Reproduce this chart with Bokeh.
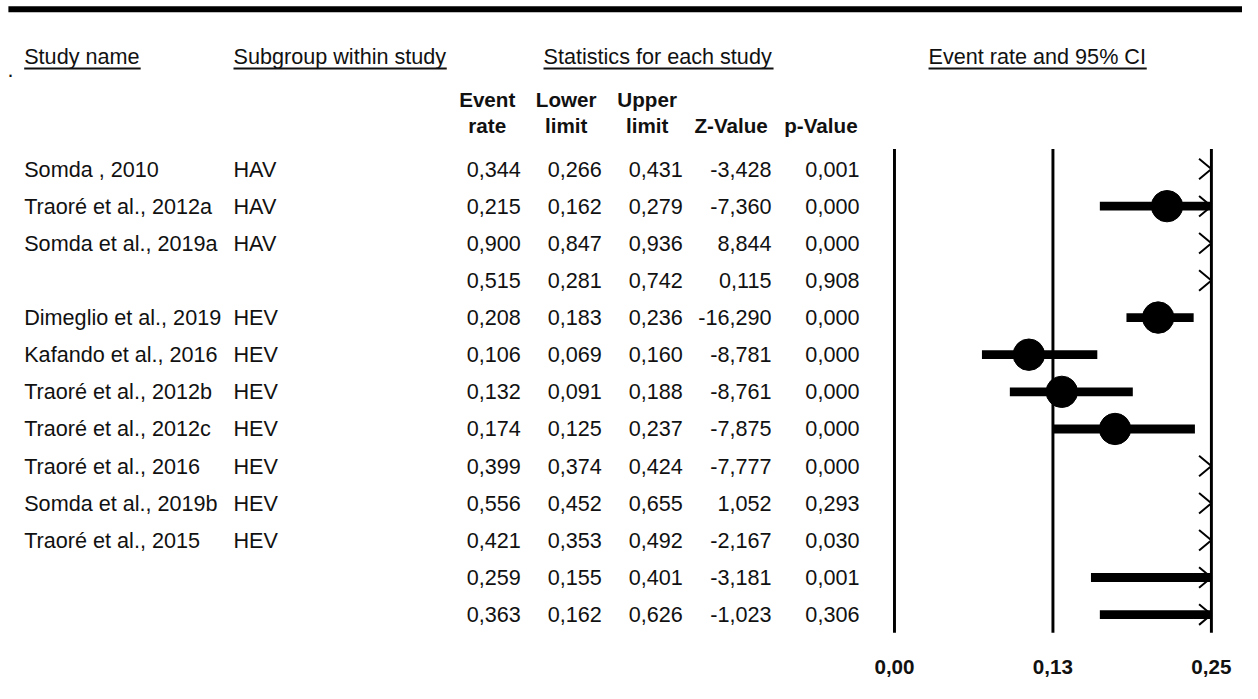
from bokeh.plotting import figure
from bokeh.models import Range1d, LinearAxis, FixedTicker, CustomJSTickFormatter
from bokeh.core.properties import value
from bokeh.embed import file_html
from bokeh.resources import INLINE

# ---------------- data ----------------
study_names = ["Somda , 2010", "Traoré et al., 2012a", "Somda et al., 2019a", "",
               "Dimeglio et al., 2019", "Kafando et al., 2016", "Traoré et al., 2012b",
               "Traoré et al., 2012c", "Traoré et al., 2016", "Somda et al., 2019b",
               "Traoré et al., 2015", "", ""]
subgroups = ["HAV", "HAV", "HAV", "", "HEV", "HEV", "HEV", "HEV", "HEV", "HEV", "HEV", "", ""]
event_rate = [0.344, 0.215, 0.900, 0.515, 0.208, 0.106, 0.132, 0.174, 0.399, 0.556, 0.421, 0.259, 0.363]
lower_limit = [0.266, 0.162, 0.847, 0.281, 0.183, 0.069, 0.091, 0.125, 0.374, 0.452, 0.353, 0.155, 0.162]
upper_limit = [0.431, 0.279, 0.936, 0.742, 0.236, 0.160, 0.188, 0.237, 0.424, 0.655, 0.492, 0.401, 0.626]
z_value = [-3.428, -7.360, 8.844, 0.115, -16.290, -8.781, -8.761, -7.875, -7.777, 1.052, -2.167, -3.181, -1.023]
p_value = [0.001, 0.000, 0.000, 0.908, 0.000, 0.000, 0.000, 0.000, 0.000, 0.293, 0.030, 0.001, 0.306]
is_summary = [False, False, False, True, False, False, False, False, False, False, False, True, True]
axis_ticks = [0.0, 0.125, 0.25]
top_headers = ["Study name", "Subgroup within study", "Statistics for each study", "Event rate and 95% CI"]
col_headers_1 = ["Event", "Lower", "Upper", "", ""]
col_headers_2 = ["rate", "limit", "limit", "Z-Value", "p-Value"]

# ---------------- layout (reference-image pixel units) ----------------
W, H = 1242, 683
RW, RH = 1258, 699            # layout units span the whole figure
S = (W / RW + H / RH) / 2     # screen px per layout unit (for sizes)
ROW0, ROWSTEP = 172.5, 38.0   # y of first row, row spacing
AX_LO, AX_HI = 905.5, 1226.5  # x of axis min / max
XMIN, XMAX = axis_ticks[0], axis_ticks[-1]
kx = (AX_HI - AX_LO) / (XMAX - XMIN)

FONT = value("Liberation Sans")
INK = "#111111"

def fs(px):
    return f"{px * S:.2f}px"

p = figure(width=W, height=H, output_backend="svg", toolbar_location=None,
           x_range=Range1d(0, RW), y_range=Range1d(RH, 0),
           x_axis_location=None, y_axis_location=None, min_border=0)
p.outline_line_color = None
p.xgrid.visible = False
p.ygrid.visible = False
p.background_fill_color = "white"
p.border_fill_color = "white"

p.extra_x_ranges = {"er": Range1d(XMIN + (0 - AX_LO) / kx, XMAX + (RW - AX_HI) / kx)}
p.extra_y_ranges = {"row": Range1d((RH - ROW0) / ROWSTEP, (0 - ROW0) / ROWSTEP)}

n = len(event_rate)
rows = list(range(n))

def fmt(v):
    return f"{v:.3f}".replace(".", ",")

# top thick rule
p.segment(x0=[8], x1=[RW], y0=[9], y1=[9], line_width=6 * S, line_color="black")
p.text(x=[7], y=[71], text=["."], text_font=FONT, text_font_size=fs(22),
       text_color=INK, text_baseline="alphabetic")

# top headers (underlined)
hx0 = [24, 236, 550, 940]
hx1 = [142, 452, 783, 1161]
p.text(x=hx0, y=[57] * 4, text=top_headers, text_font=FONT, text_font_size=fs(22),
       text_color=INK, text_baseline="middle", text_align="left")
p.segment(x0=hx0, x1=hx1, y0=[69.5] * 4, y1=[69.5] * 4, line_width=2 * S, line_color=INK)

# column headers
col_right = [527, 609, 691, 781, 870]
col_center = [493, 573, 655, 740, 831]
p.text(x=col_center, y=[101.5] * 5, text=col_headers_1, text_font=FONT, text_font_size=fs(21),
       text_font_style="bold", text_color=INK, text_baseline="middle", text_align="center")
p.text(x=col_center, y=[128] * 5, text=col_headers_2, text_font=FONT, text_font_size=fs(21),
       text_font_style="bold", text_color=INK, text_baseline="middle", text_align="center")

# table body
p.text(x=[24] * n, y=rows, text=study_names, text_font=FONT, text_font_size=fs(22),
       text_color=INK, text_baseline="middle", text_align="left", y_range_name="row")
p.text(x=[236] * n, y=rows, text=subgroups, text_font=FONT, text_font_size=fs(22),
       text_color=INK, text_baseline="middle", text_align="left", y_range_name="row")
for xr, col in zip(col_right, [event_rate, lower_limit, upper_limit, z_value, p_value]):
    p.text(x=[xr] * n, y=rows, text=[fmt(v) for v in col], text_font=FONT,
           text_font_size=fs(22), text_color=INK, text_baseline="middle",
           text_align="right", y_range_name="row")

# forest plot: reference lines
p.segment(x0=axis_ticks, x1=axis_ticks, y0=[-0.54] * 3, y1=[n - 1 + 0.49] * 3,
          line_width=3 * S, line_color="black", x_range_name="er", y_range_name="row")

# confidence interval bars (clipped to axis)
bx0, bx1, by = [], [], []
for i in rows:
    lo, hi = max(lower_limit[i], XMIN), min(upper_limit[i], XMAX)
    if lo < hi:
        bx0.append(lo); bx1.append(hi); by.append(i)
p.segment(x0=bx0, x1=bx1, y0=by, y1=by, line_width=9 * S, line_color="black",
          line_cap="butt", x_range_name="er", y_range_name="row")

# point estimates
px, py = [], []
for i in rows:
    if not is_summary[i] and XMIN <= event_rate[i] <= XMAX:
        px.append(event_rate[i]); py.append(i)
p.scatter(x=px, y=py, size=32 * S, marker="circle", fill_color="black", line_color="black",
          x_range_name="er", y_range_name="row")

# off-scale chevrons at the right edge
cw, ch = 12.5 / kx, 10.5 / ROWSTEP
cxs, cys = [], []
for i in rows:
    if upper_limit[i] > XMAX:
        cxs.append([XMAX - cw, XMAX, XMAX - cw])
        cys.append([i - ch, i, i + ch])
p.multi_line(xs=cxs, ys=cys, line_width=2 * S, line_color="black",
             x_range_name="er", y_range_name="row")

# x axis (fixed inside the frame)
ax = LinearAxis(x_range_name="er", ticker=FixedTicker(ticks=axis_ticks),
                formatter=CustomJSTickFormatter(code="return tick.toFixed(2).replace('.', ',');"))
ax.fixed_location = 672
ax.axis_line_color = None
ax.major_tick_line_color = None
ax.minor_tick_line_color = None
ax.major_tick_in = 0
ax.major_tick_out = 0
ax.minor_tick_in = 0
ax.minor_tick_out = 0
ax.major_label_standoff = 3
ax.major_label_text_font = "Liberation Sans"
ax.major_label_text_font_style = "bold"
ax.major_label_text_font_size = fs(21)
ax.major_label_text_color = INK
p.add_layout(ax, "below")

open("out.html", "w").write(file_html(p, INLINE))
